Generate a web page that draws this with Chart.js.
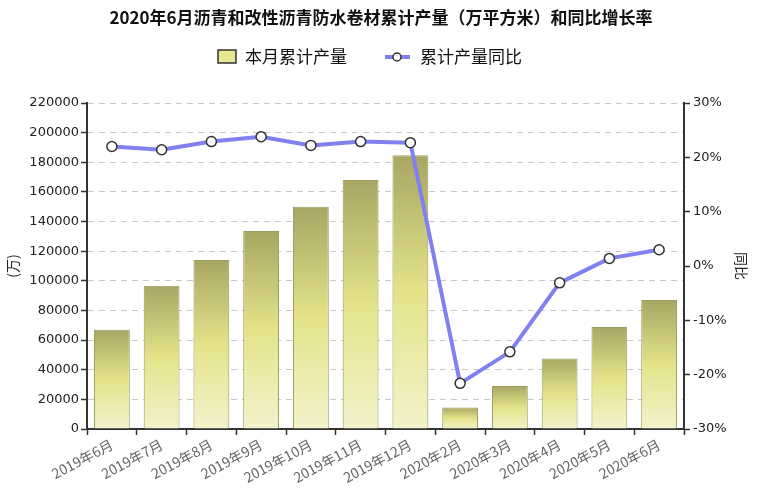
<!DOCTYPE html>
<html>
<head>
<meta charset="utf-8">
<script src="https://cdn.jsdelivr.net/npm/chart.js@4/dist/chart.umd.min.js"></script>
<style>
  html, body { margin: 0; padding: 0; background: #fff; }
</style>
</head>
<body>
<canvas id="grafico" width="760" height="500"></canvas>
<script>
const meses = ['2019年6月', '2019年7月', '2019年8月', '2019年9月', '2019年10月', '2019年11月',
    '2019年12月', '2020年2月', '2020年3月', '2020年4月', '2020年5月', '2020年6月'];
const produccion = [67000, 96700, 114000, 133700, 150000, 168100, 184800, 14500, 29100, 47600, 68800, 87000];
const tasa = [22.0, 21.4, 22.9, 23.8, 22.2, 22.9, 22.7, -21.6, -15.8, -3.1, 1.4, 3.0];
const ticksIzq = [0, 20000, 40000, 60000, 80000, 100000, 120000, 140000, 160000, 180000, 200000, 220000];
const ticksDer = [-30, -20, -10, 0, 10, 20, 30];

const titulo = '2020年6月沥青和改性沥青防水卷材累计产量（万平方米）和同比增长率';
const nombreBarra = '本月累计产量';
const nombreLinea = '累计产量同比';
const tituloDer = '同比';

const fuente = '"Noto Sans CJK SC", "DejaVu Sans", sans-serif';
const colorLinea = '#8080f0';

// degradado por barra: oliva arriba, amarillo pálido abajo
function degradado(ctx) {
    const chart = ctx.chart;
    if (!chart.chartArea || ctx.raw == null) return '#e6e68c';
    const y = chart.scales.y;
    const top = y.getPixelForValue(ctx.raw);
    const base = y.getPixelForValue(0);
    const g = chart.ctx.createLinearGradient(0, top, 0, base);
    g.addColorStop(0, '#a8a663');
    g.addColorStop(0.5, '#e4e389');
    g.addColorStop(1, '#f4f2cb');
    return g;
}

// título, leyenda y título del eje derecho dibujados a mano
const cabecera = {
    id: 'cabecera',
    afterDraw(chart) {
        const c = chart.ctx;
        c.save();
        c.fillStyle = '#111';
        c.textAlign = 'center';
        c.textBaseline = 'middle';
        c.font = 'bold 17px ' + fuente;
        c.fillText(titulo, 381, 18);

        c.font = '17px ' + fuente;
        c.textAlign = 'left';
        c.fillStyle = '#e8e890';
        c.fillRect(218, 50, 18, 13);
        c.strokeStyle = '#333';
        c.lineWidth = 1.5;
        c.strokeRect(218, 50, 18, 13);
        c.fillStyle = '#111';
        c.fillText(nombreBarra, 245, 57);

        c.strokeStyle = colorLinea;
        c.lineWidth = 4;
        c.beginPath();
        c.moveTo(385, 57);
        c.lineTo(410, 57);
        c.stroke();
        c.beginPath();
        c.arc(397, 57, 4, 0, Math.PI * 2);
        c.fillStyle = '#fff';
        c.fill();
        c.strokeStyle = '#333';
        c.lineWidth = 1.5;
        c.stroke();
        c.fillStyle = '#111';
        c.fillText(nombreLinea, 420, 57);

        c.translate(741, 266);
        c.rotate(Math.PI / 2);
        c.textAlign = 'center';
        c.font = '14px ' + fuente;
        c.fillStyle = '#222';
        c.fillText(tituloDer, 0, 0);
        c.restore();
    }
};

new Chart(document.getElementById('grafico').getContext('2d'), {
    type: 'bar',
    data: {
        labels: meses,
        datasets: [{
            type: 'line',
            label: nombreLinea,
            data: tasa,
            yAxisID: 'y1',
            borderColor: colorLinea,
            borderWidth: 4,
            pointRadius: 5,
            pointBackgroundColor: '#fff',
            pointBorderColor: '#333',
            pointBorderWidth: 1.5,
            tension: 0,
            order: 0
        }, {
            label: nombreBarra,
            data: produccion,
            yAxisID: 'y',
            backgroundColor: degradado,
            borderColor: '#9c9a5c',
            borderWidth: 1,
            barPercentage: 0.72,
            categoryPercentage: 1,
            order: 1
        }]
    },
    options: {
        responsive: false,
        animation: false,
        layout: { padding: { top: 103, left: 0, right: 0, bottom: 0 } },
        plugins: {
            legend: { display: false },
            title: { display: false },
            tooltip: { enabled: false }
        },
        scales: {
            x: {
                afterFit(s) { s.height = 71; },
                grid: { drawOnChartArea: false, tickLength: 6, tickColor: '#333', tickWidth: 1.5 },
                border: { color: '#333', width: 2 },
                ticks: {
                    color: '#666',
                    minRotation: 28,
                    maxRotation: 28,
                    padding: 1,
                    font: { family: fuente, size: 14 }
                }
            },
            y: {
                position: 'left',
                min: 0,
                max: 220000,
                afterFit(s) { s.width = 87; },
                afterBuildTicks(s) { s.ticks = ticksIzq.map(v => ({ value: v })); },
                grid: { color: '#c8c8c8', lineWidth: 1, tickLength: 6, tickColor: '#333', tickWidth: 1.5 },
                border: { color: '#333', width: 2, dash: [6, 5] },
                ticks: {
                    color: '#222',
                    padding: 2,
                    font: { family: '"DejaVu Sans", sans-serif', size: 13 },
                    callback: v => String(v)
                },
                title: {
                    display: true,
                    text: '(万)',
                    color: '#222',
                    padding: { top: 4, bottom: 0 },
                    font: { family: fuente, size: 14 }
                }
            },
            y1: {
                position: 'right',
                min: -30,
                max: 30,
                afterFit(s) { s.width = 76; },
                afterBuildTicks(s) { s.ticks = ticksDer.map(v => ({ value: v })); },
                grid: { drawOnChartArea: false, tickLength: 6, tickColor: '#333', tickWidth: 1.5 },
                border: { color: '#333', width: 2 },
                ticks: {
                    color: '#222',
                    padding: 3,
                    font: { family: '"DejaVu Sans", sans-serif', size: 13 },
                    callback: v => v + '%'
                }
            }
        }
    },
    plugins: [cabecera]
});
</script>
</body>
</html>
